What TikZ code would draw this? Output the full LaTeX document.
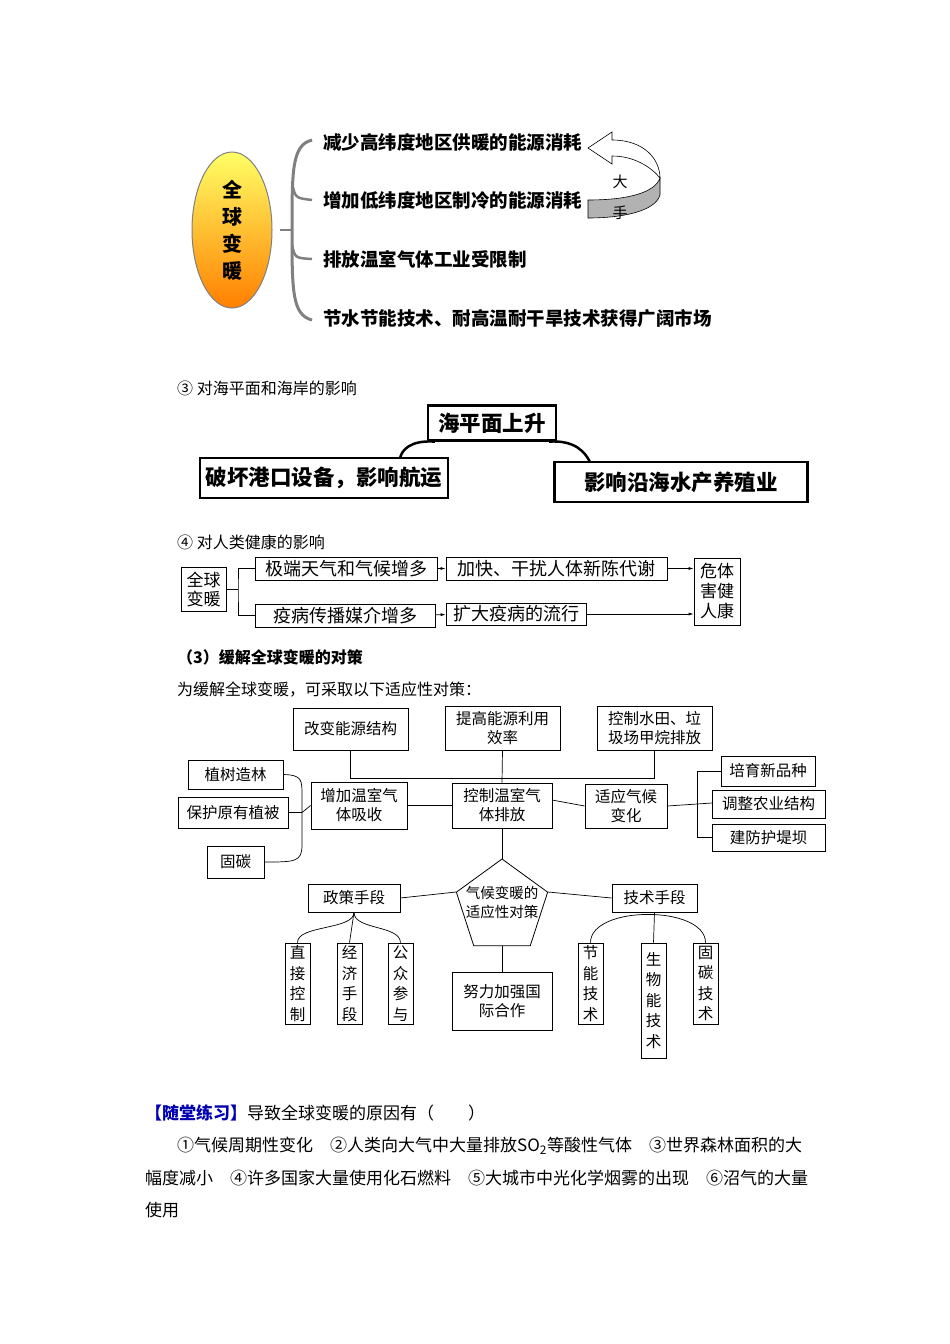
\documentclass[tikz,border=0pt]{standalone}
\usepackage{fontspec}
\setmainfont{Noto Sans CJK SC}
\usetikzlibrary{shapes.geometric,arrows.meta}
\begin{document}
\begin{tikzpicture}[x=1pt,y=-1pt,
 bx/.style={draw,line width=0.8pt,inner sep=1pt,font=\fontsize{15.5}{19}\selectfont,align=center},
 vb/.style={draw,line width=0.8pt,inner sep=1pt,font=\fontsize{15.5}{20.5}\selectfont,align=center,minimum width=25pt},
 tb/.style={draw,line width=2.2pt,inner sep=2pt,font=\fontsize{21.5}{24}\selectfont\bfseries,align=center},
 hb/.style={draw,line width=0.7pt,inner sep=1pt,font=\fontsize{18}{19}\selectfont,align=center},
 ln/.style={line width=0.7pt},
 ar/.style={line width=0.7pt,-{Latex[length=5pt,width=3pt]}},
 it/.style={anchor=west,font=\fontsize{18.5}{20}\selectfont\bfseries,inner sep=0pt},
 tx/.style={anchor=west,font=\fontsize{16}{18}\selectfont,inner sep=0pt},
 bt/.style={anchor=west,inner sep=0pt,font=\fontsize{17}{19}\selectfont}]
\useasboundingbox (0,0) rectangle (950,1344);
% ---- section 1
\node[ellipse,draw=gray,line width=1pt,top color=yellow!60,bottom color=orange,minimum width=80pt,minimum height=156pt,inner sep=0pt,font=\fontsize{20}{27}\selectfont\bfseries,align=center] (gw) at (232,230) {全\\球\\变\\暖};
\draw[gray,line width=3pt] (312,140) .. controls (292,145) and (292,170) .. (292,230) .. controls (292,290) and (292,315) .. (312,320);
\draw[gray,line width=2.5pt] (292,182) .. controls (295,198) .. (312,200);
\draw[gray,line width=2.5pt] (292,245) .. controls (295,258) .. (312,259);
\draw[gray,line width=2.5pt] (292,230) -- (280,230);
\node[it] (i1) at (323,142) {减少高纬度地区供暖的能源消耗};
\node[it] (i2) at (323,200) {增加低纬度地区制冷的能源消耗};
\node[it] (i3) at (323,259) {排放温室气体工业受限制};
\node[it] (i4) at (323,318) {节水节能技术、耐高温耐干旱技术获得广阔市场};
\fill[gray!60,draw=black,line width=0.6pt] (588,200) .. controls (630,200) and (655,192) .. (660,178) -- (660,195) .. controls (655,212) and (620,218) .. (588,218) -- cycle;
\draw[fill=white,line width=0.6pt] (588,148)--(612,132)--(612,140) .. controls (645,140) and (660,160) .. (660,178) .. controls (652,168) and (635,156) .. (612,156) -- (612,164) -- cycle;
\node[font=\fontsize{15}{15}\selectfont] (da) at (620,182) {大};
\node[font=\fontsize{15}{15}\selectfont] (sh) at (620,213) {手};
% ---- section 2
\node[tx] (h3) at (177,388) {③ 对海平面和海岸的影响};
\node[tb,minimum width=128pt,minimum height=35pt] (sea) at (492,423) {海平面上升};
\node[tb,minimum width=248pt,minimum height=40pt] (port) at (324,478) {破坏港口设备，影响航运};
\node[tb,minimum width=253pt,minimum height=40pt] (fish) at (681,482) {影响沿海水产养殖业};
\draw[line width=2.5pt] (sea.south west) ++(8,0) .. controls (410,440) and (402,450) .. (400,458);
\draw[line width=2.5pt] (sea.south east) ++(-8,0) .. controls (575,440) and (585,452) .. (590,462);
% ---- section 3
\node[tx] (h4) at (177,542) {④ 对人类健康的影响};
\node[hb,minimum width=45pt,minimum height=44pt,font=\fontsize{17}{19}\selectfont] (gw2) at (203.5,589) {全球\\变暖};
\node[hb,minimum width=182pt,minimum height=23pt] (ex) at (346,568.5) {极端天气和气候增多};
\node[hb,minimum width=180pt,minimum height=23pt] (ep) at (345,615.5) {疫病传播媒介增多};
\node[hb,minimum width=221pt,minimum height=23pt] (me) at (556.5,568.5) {加快、干扰人体新陈代谢};
\node[hb,minimum width=140pt,minimum height=22pt] (sp) at (516,614) {扩大疫病的流行};
\node[hb,minimum width=46pt,minimum height=67pt,font=\fontsize{17}{20}\selectfont] (hh) at (717,591.5) {危体\\害健\\人康};
\draw[ln] (gw2.east) -- (238,589) coordinate (bj);
\draw[ln] (ex.west) -| (bj) |- (ep.west);
\draw[ar] (ex) -- (me);
\draw[ar] (ep) -- (sp);
\draw[ar] (me.east) -- (me.east -| hh.west);
\draw[ar] (sp.east) -- (sp.east -| hh.west);
% ---- section 4 text
\node[anchor=west,font=\fontsize{16}{18}\selectfont\bfseries,inner sep=0pt] (h5) at (177,657) {（3）缓解全球变暖的对策};
\node[tx] (h6) at (177,690) {为缓解全球变暖，可采取以下适应性对策：};
% ---- diagram
\node[bx,minimum width=115pt,minimum height=42pt] (a1) at (350.5,729) {改变能源结构};
\node[bx,minimum width=115pt,minimum height=44pt] (a2) at (502.5,728) {提高能源利用\\效率};
\node[bx,minimum width=115pt,minimum height=44pt] (a3) at (654.5,728) {控制水田、垃\\圾场甲烷排放};
\node[bx,minimum width=100pt,minimum height=45pt] (c) at (502,805.5) {控制温室气\\体排放};
\node[bx,minimum width=96pt,minimum height=47pt] (inc) at (359,805.5) {增加温室气\\体吸收};
\node[bx,minimum width=82pt,minimum height=44pt] (ad) at (626,806) {适应气候\\变化};
\node[bx,minimum width=95pt,minimum height=29pt] (l1) at (235.5,774.5) {植树造林};
\node[bx,minimum width=110pt,minimum height=31pt] (l2) at (233,812.5) {保护原有植被};
\node[bx,minimum width=57pt,minimum height=32pt] (l3) at (235.5,862) {固碳};
\node[bx,minimum width=94pt,minimum height=30pt] (r1) at (768,771) {培育新品种};
\node[bx,minimum width=113pt,minimum height=28pt] (r2) at (768.5,804) {调整农业结构};
\node[bx,minimum width=113pt,minimum height=27pt] (r3) at (768.5,837.5) {建防护堤坝};
\node[regular polygon,regular polygon sides=5,draw,line width=0.8pt,minimum size=96pt,inner sep=0pt] (p) at (502,907) {};
\node[font=\fontsize{14.5}{19}\selectfont,align=center] (pt) at (502,902) {气候变暖的\\适应性对策};
\node[bx,minimum width=92pt,minimum height=28pt] (pol) at (354,898) {政策手段};
\node[bx,minimum width=85pt,minimum height=28pt] (tec) at (654.5,898) {技术手段};
\node[bx,minimum width=100pt,minimum height=58pt] (co) at (502,1001) {努力加强国\\际合作};
\node[vb,minimum height=81pt] (d1) at (297.5,983.5) {直\\接\\控\\制};
\node[vb,minimum height=81pt] (d2) at (349.5,983.5) {经\\济\\手\\段};
\node[vb,minimum height=81pt] (d3) at (400.5,983.5) {公\\众\\参\\与};
\node[vb,minimum height=81pt] (t1) at (590.5,983.5) {节\\能\\技\\术};
\node[vb,minimum height=115pt] (t2) at (653.5,1000.5) {生\\物\\能\\技\\术};
\node[vb,minimum height=81pt] (t3) at (705.5,983.5) {固\\碳\\技\\术};
% connectors
\draw[ln] (a1.south) -- (350.5,778) -- (654.5,778) -- (a3.south);
\draw[ln] (a2.south) -- (c.north);
\draw[ln] (inc.east) -- (c.west);
\draw[ln] (552,800) -- (ad.west);
\draw[ln] (l1.east) .. controls (302,775) and (302,780) .. (302,795) -- (302,845) .. controls (302,862) and (295,862) .. (l3.east);
\draw[ln] (l2.east) -- (302,812.5) -- (inc.west);
\draw[ln] (ad.east) -- (712,803);
\draw[ln] (r1.west) -- (697,771) -- (697,837.5) -- (r3.west);
\draw[ln] (c.south) -- (p.corner 1);
\draw[ln] (pol.east) -- (p.corner 2);
\draw[ln] (p.corner 5) -- (tec.west);
\draw[ln] (p.south) -- (co.north);
\draw[ln] (pol.south) .. controls (354,930) and (297,925) .. (d1.north);
\draw[ln] (pol.south) -- (d2.north);
\draw[ln] (pol.south) .. controls (354,930) and (400,925) .. (d3.north);
\draw[ln] (t1.north) .. controls (590.5,905) and (705.5,905) .. (t3.north);
\draw[ln] (tec.south) -- (t2.north);
% ---- bottom text
\node[bt] (q1) at (145,1113) {\textcolor{blue!70!black}{\bfseries 【随堂练习】}导致全球变暖的原因有（　　）};
\node[bt] (q2) at (177,1146) {①气候周期性变化　②人类向大气中大量排放SO\textsubscript{2}等酸性气体　③世界森林面积的大};
\node[bt] (q3) at (145,1178) {幅度减小　④许多国家大量使用化石燃料　⑤大城市中光化学烟雾的出现　⑥沼气的大量};
\node[bt] (q4) at (145,1210) {使用};
\end{tikzpicture}
\end{document}
